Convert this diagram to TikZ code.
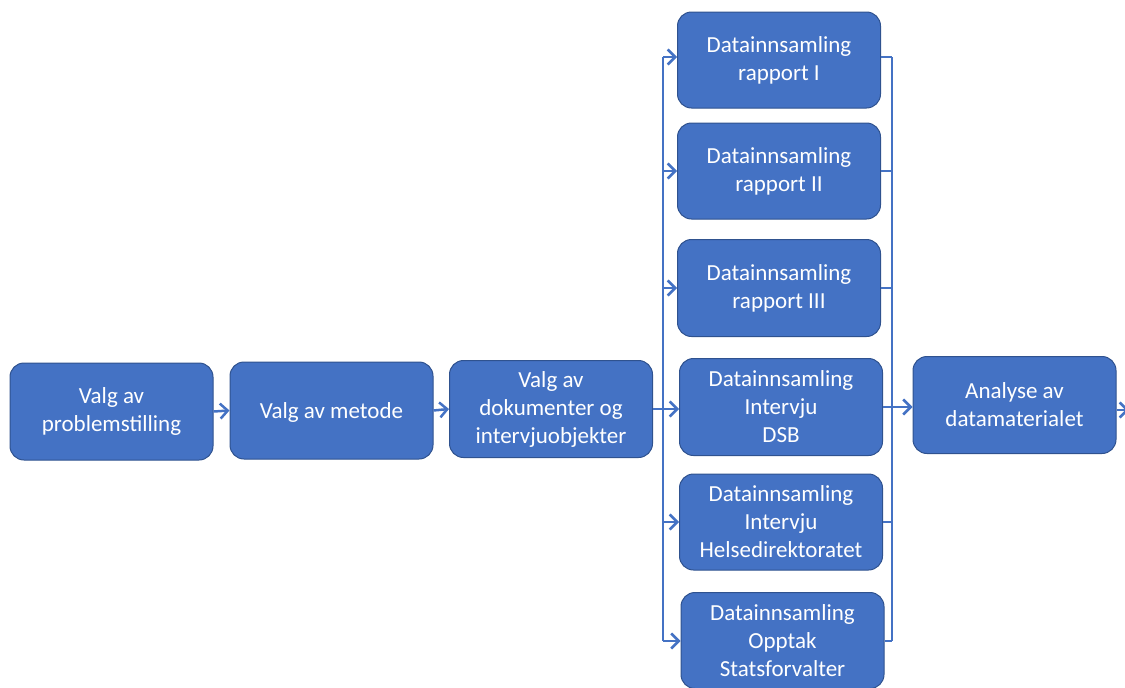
\documentclass[tikz,border=0pt]{standalone}
\usepackage{fontspec}
\setmainfont{Carlito}
\usetikzlibrary{arrows.meta}
\definecolor{boxfill}{HTML}{4472C4}
\definecolor{boxedge}{HTML}{2F528F}
\definecolor{linkblue}{HTML}{4472C4}
\tikzset{
  stepbox/.style={draw=boxedge, line width=1pt, fill=boxfill, rounded corners=14pt,
    minimum width=203pt, minimum height=97pt, text=white, align=center,
    inner sep=0pt, font=\fontsize{23}{28}\selectfont,
    execute at begin node={\rule{0pt}{20pt}}},
  link/.style={draw=linkblue, line width=2.5pt},
  arr/.style={link, -{Straight Barb[length=7.5pt, width=15pt, line width=2.5pt]}}
}
\begin{document}
\begin{tikzpicture}[x=1pt, y=1pt]
\clip (0,0) rectangle (1125,-688);

% main line of work
\node[stepbox] (b1) at (111.5,-411.5) {Valg av\\problemstilling};
\node[stepbox] (b2) at (331.5,-410.5) {Valg av metode};
\node[stepbox] (b3) at (551,-409) {Valg av\\dokumenter og\\intervjuobjekter};

% data collection column
\node[stepbox, minimum height=96pt] (rA) at (779,-60) {Datainnsamling\\rapport I};
\node[stepbox, minimum height=96pt] (rB) at (779,-171) {Datainnsamling\\rapport II};
\node[stepbox, minimum height=97pt] (rC) at (779,-288) {Datainnsamling\\rapport III};
\node[stepbox, minimum height=97pt] (rD) at (781,-407) {Datainnsamling\\Intervju\\DSB};
\node[stepbox, minimum height=96pt] (rE) at (781,-522) {Datainnsamling\\Intervju\\Helsedirektoratet};
\node[stepbox, minimum height=96pt] (rF) at (782.5,-640.5) {Datainnsamling\\Opptak\\Statsforvalter};

% analysis
\node[stepbox] (an) at (1014.5,-405) {Analyse av\\datamaterialet};

% bus lines
\coordinate (lt) at (663,-57);
\coordinate (lb) at (663,-641);
\coordinate (rt) at (892,-57);
\coordinate (rb) at (892,-641);
\coordinate (out) at (1129,-410);

\draw[arr] (b1.east) -- (b2.west);
\draw[arr] (b2.east) -- (b3.west);
\draw[arr] (b3.east) -- (b3.east -| rD.west);

\draw[link] (lt) -- (lb);
\draw[arr] (lt) -- (lt -| rA.west);
\draw[arr] (lt |- rB.west) -- (rB.west);
\draw[arr] (lt |- rC.west) -- (rC.west);
\draw[arr] (lt |- rE.west) -- (rE.west);
\draw[arr] (lb) -- (lb -| rF.west);

\draw[link] (rt) -- (rb);
\draw[link] (rA.east |- rt) -- (rt);
\draw[link] (rB.east) -- (rt |- rB.east);
\draw[link] (rC.east) -- (rt |- rC.east);
\draw[link] (rE.east) -- (rt |- rE.east);
\draw[link] (rF.east |- rb) -- (rb);

\draw[arr] (rD.east) -- (rD.east -| an.west);
\draw[arr] (an.east |- out) -- (out);
\end{tikzpicture}
\end{document}
